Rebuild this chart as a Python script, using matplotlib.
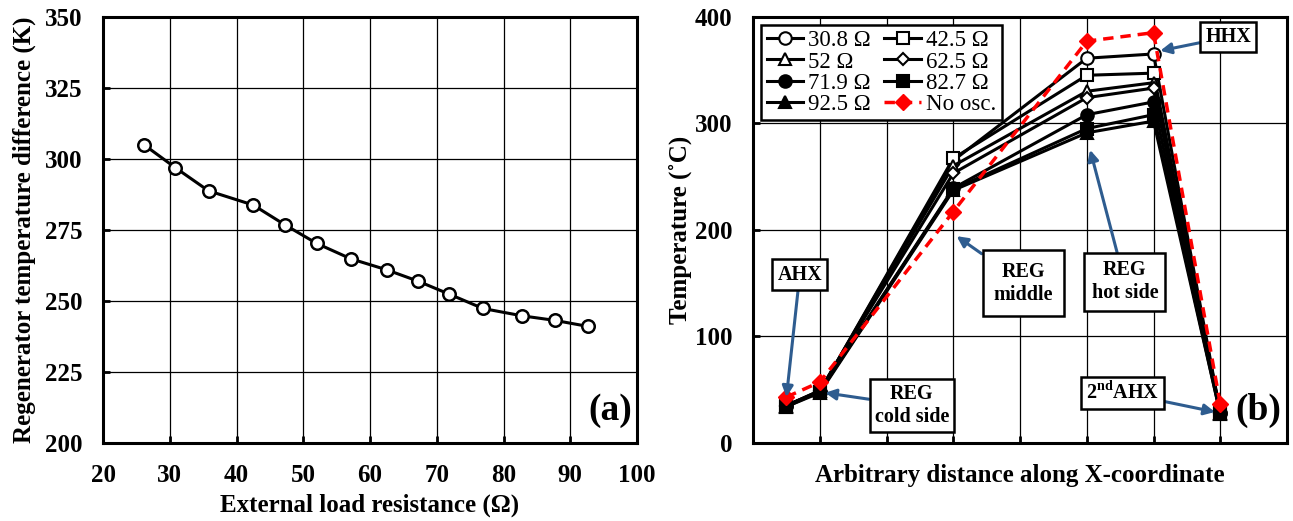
import matplotlib
matplotlib.use("Agg")
import matplotlib.pyplot as plt

plt.rcParams['font.family'] = ['Liberation Serif', 'DejaVu Serif']
plt.rcParams['font.weight'] = 'bold'
plt.rcParams['mathtext.fontset'] = 'custom'
plt.rcParams['mathtext.rm'] = 'Liberation Serif:bold'
plt.rcParams['mathtext.bf'] = 'Liberation Serif:bold'

# (a) regenerator temperature difference vs load
load_res = [26.2, 30.8, 35.8, 42.5, 47.2, 52.0, 57.1, 62.5, 67.2, 71.9, 76.9, 82.8, 87.7, 92.6]
reg_dT = [304.8, 296.9, 288.7, 283.7, 276.8, 270.2, 264.8, 260.9, 256.9, 252.3, 247.3, 244.7, 243.1, 241.0]

# (b) temperature profile along the engine
stations = [0.5, 1, 3, 5, 6, 7]
labels_b = ['30.8 Ω', '42.5 Ω', '52 Ω', '62.5 Ω', '71.9 Ω', '82.7 Ω', '92.5 Ω', 'No osc.']
t_308 = [35, 48, 265, 361, 365, 28]
t_425 = [35, 48, 267, 345, 347, 28]
t_52 = [35, 49, 260, 330, 338, 28]
t_625 = [35, 49, 253, 324, 333, 28]
t_719 = [35, 48, 239, 308, 320, 28]
t_827 = [34, 48, 238, 295, 308, 27]
t_925 = [34, 47, 237, 291, 302, 27]
t_noosc = [43, 57, 217, 377, 385, 36]

fig = plt.figure(figsize=(12.93, 5.21), dpi=100)
ax1 = fig.add_axes([0.0797, 0.150, 0.413, 0.818])
ax2 = fig.add_axes([0.5824, 0.150, 0.413, 0.818])

for ax in (ax1, ax2):
    for s in ax.spines.values():
        s.set_linewidth(2.2)
    ax.tick_params(direction='in', length=5, width=2, labelsize=18, pad=15)
    ax.grid(True, color='black', linewidth=0.9)
    ax.set_axisbelow(True)

# panel (a)
ax1.plot(load_res, reg_dT, color='black', lw=2.2, marker='o', ms=9,
         mfc='white', mec='black', mew=1.8)
ax1.set_xlim(20, 100)
ax1.set_ylim(200, 350)
ax1.set_xticks(range(20, 101, 10))
ax1.set_yticks(range(200, 351, 25))
ax1.set_xlabel('External load resistance (Ω)', fontsize=18, fontweight='bold',
               labelpad=5)
ax1.set_ylabel('Regenerator temperature difference (K)', fontsize=18,
               fontweight='bold', labelpad=6)
ax1.text(0.99, 0.035, '(a)', transform=ax1.transAxes, ha='right', va='bottom',
         fontsize=27, fontweight='bold')

# panel (b)
series = [t_308, t_425, t_52, t_625, t_719, t_827, t_925]
markers = ['o', 's', '^', 'D', 'o', 's', '^']
sizes = [9, 9, 8, 6, 9, 9, 9]
faces = ['white'] * 4 + ['black'] * 3
handles = []
for vals, m, ms, fc, lab in zip(series, markers, sizes, faces, labels_b):
    h, = ax2.plot(stations, vals, color='black', lw=2.2, marker=m, ms=ms,
                  mfc=fc, mec='black', mew=1.5, label=lab)
    handles.append(h)
h, = ax2.plot(stations, t_noosc, color='red', lw=2.5, ls=(0, (3, 2)), marker='D',
              ms=8, mfc='red', mec='red', label=labels_b[-1])
handles.append(h)

ax2.set_xlim(0, 8)
ax2.set_ylim(0, 400)
ax2.set_xticks(range(0, 9))
ax2.set_xticklabels([])
ax2.set_yticks(range(0, 401, 100))
ax2.set_xlabel('Arbitrary distance along X-coordinate', fontsize=18,
               fontweight='bold', labelpad=0)
ax2.set_ylabel('Temperature (˚C)', fontsize=18, fontweight='bold', labelpad=2)

# legend filled row by row, like the original
order = [0, 2, 4, 6, 1, 3, 5, 7]
leg = ax2.legend([handles[i] for i in order], [labels_b[i] for i in order],
                 loc='upper left', ncol=2, prop={'size': 16.5, 'weight': 'normal'},
                 frameon=True, fancybox=False, edgecolor='black', framealpha=1,
                 handlelength=1.6, handletextpad=0.2, columnspacing=0.6,
                 labelspacing=0.0, borderpad=0.25, borderaxespad=0.35)
leg.get_frame().set_linewidth(1.8)

arrow_col = '#2e5c8f'
arr = dict(arrowstyle='-|>', color=arrow_col, lw=2.2, mutation_scale=16,
           shrinkA=0, shrinkB=0)
notes = [
    ('AHX', (0.5, 43), (0.7, 158), 0.25),
    ('REG\ncold side', (1.08, 47), (2.38, 35), 0.25),
    ('REG\nmiddle', (3.05, 194), (4.05, 150), 0.55),
    ('REG\nhot side', (5.05, 275), (5.57, 151), 0.35),
    ('HHX', (6.1, 368), (7.12, 381), 0.25),
    ('2$^{\\rm nd}$AHX', (6.92, 29), (5.53, 47), 0.25),
]
for txt, tip, pos, pad in notes:
    box = dict(boxstyle='square,pad=%s' % pad, fc='white', ec='black', lw=1.8)
    ax2.annotate(txt, xy=tip, xytext=pos, fontsize=14.5, fontweight='bold',
                 ha='center', va='center', bbox=box, arrowprops=arr,
                 linespacing=1.2, zorder=5)

ax2.text(0.99, 0.035, '(b)', transform=ax2.transAxes, ha='right', va='bottom',
         fontsize=27, fontweight='bold')

fig.savefig('out.png', dpi=100)
